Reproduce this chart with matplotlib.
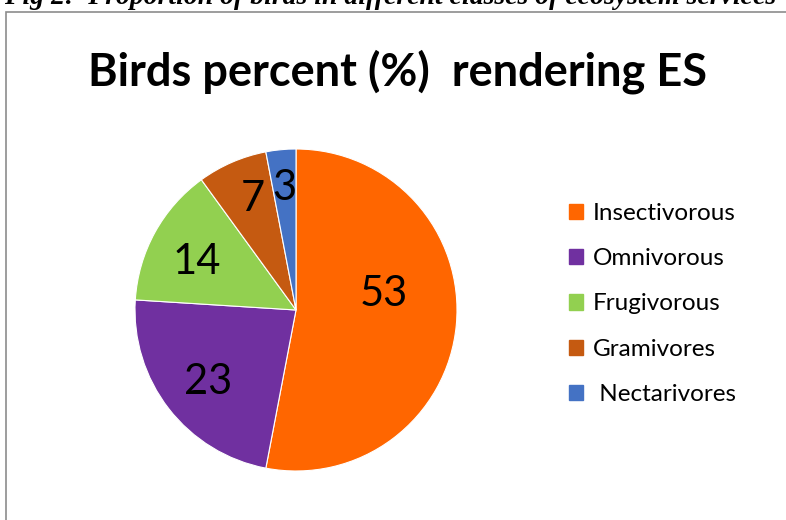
import matplotlib
matplotlib.use("Agg")
import matplotlib.pyplot as plt
import numpy as np
from matplotlib.patches import Rectangle

# data
categories = ["Insectivorous", "Omnivorous", "Frugivorous", "Gramivores", " Nectarivores"]
values = [53, 23, 14, 7, 3]
colors = ["#FF6600", "#7030A0", "#92D050", "#C55A11", "#4472C4"]

caption = "Fig 2:  Proportion of birds in different classes of ecosystem services"
title = "Birds percent (%)  rendering ES"

fig = plt.figure(figsize=(7.86, 5.2), dpi=100)

# chart frame (runs off the right and bottom edge)
fig.patches.append(Rectangle((6 / 786, -0.05), 1.0, (520 - 12) / 520 + 0.05,
                             transform=fig.transFigure, fill=False,
                             edgecolor="#8c8c8c", linewidth=1.2))

fig.text(390 / 786, 1 - 4 / 520, caption, ha="center", va="baseline",
         family="Liberation Serif", fontweight="bold", fontstyle="italic",
         fontsize=20)

fig.text(398 / 786, 1 - 85 / 520, title, ha="center", va="baseline",
         family="Lato", fontweight="bold", fontsize=32.5)

ax = fig.add_axes([(296 - 161) / 786, (520 - 310 - 161) / 520, 322 / 786, 322 / 520])
wedges, _ = ax.pie(values, colors=colors, startangle=90, counterclock=False,
                   radius=1, wedgeprops=dict(edgecolor="white", linewidth=0.8))
ax.set_xlim(-1.0, 1.0)
ax.set_ylim(-1.0, 1.0)
ax.set_aspect("equal")
ax.axis("off")

# value labels, Excel-like best fit placement
label_r = [0.555, 0.706, 0.683, 0.739, 0.761]
label_shift = [15.7, 1.5, 2.9, -2.2, 0.2]
for w, v, r, s in zip(wedges, values, label_r, label_shift):
    mid = np.deg2rad((w.theta1 + w.theta2) / 2 + s)
    ax.text(r * np.cos(mid), r * np.sin(mid), str(v), ha="center", va="center",
            family="Lato", fontsize=30)

handles = [Rectangle((0, 0), 1, 1, color=c) for c in colors]
fig.legend(handles, categories, loc="upper left", bbox_to_anchor=(547 / 786, 1 - 181 / 520),
           frameon=False, prop=dict(family="Lato", size=17.5), labelspacing=1.0,
           handlelength=0.6, handleheight=0.6, handletextpad=0.4)

fig.savefig("out.png", dpi=100)
